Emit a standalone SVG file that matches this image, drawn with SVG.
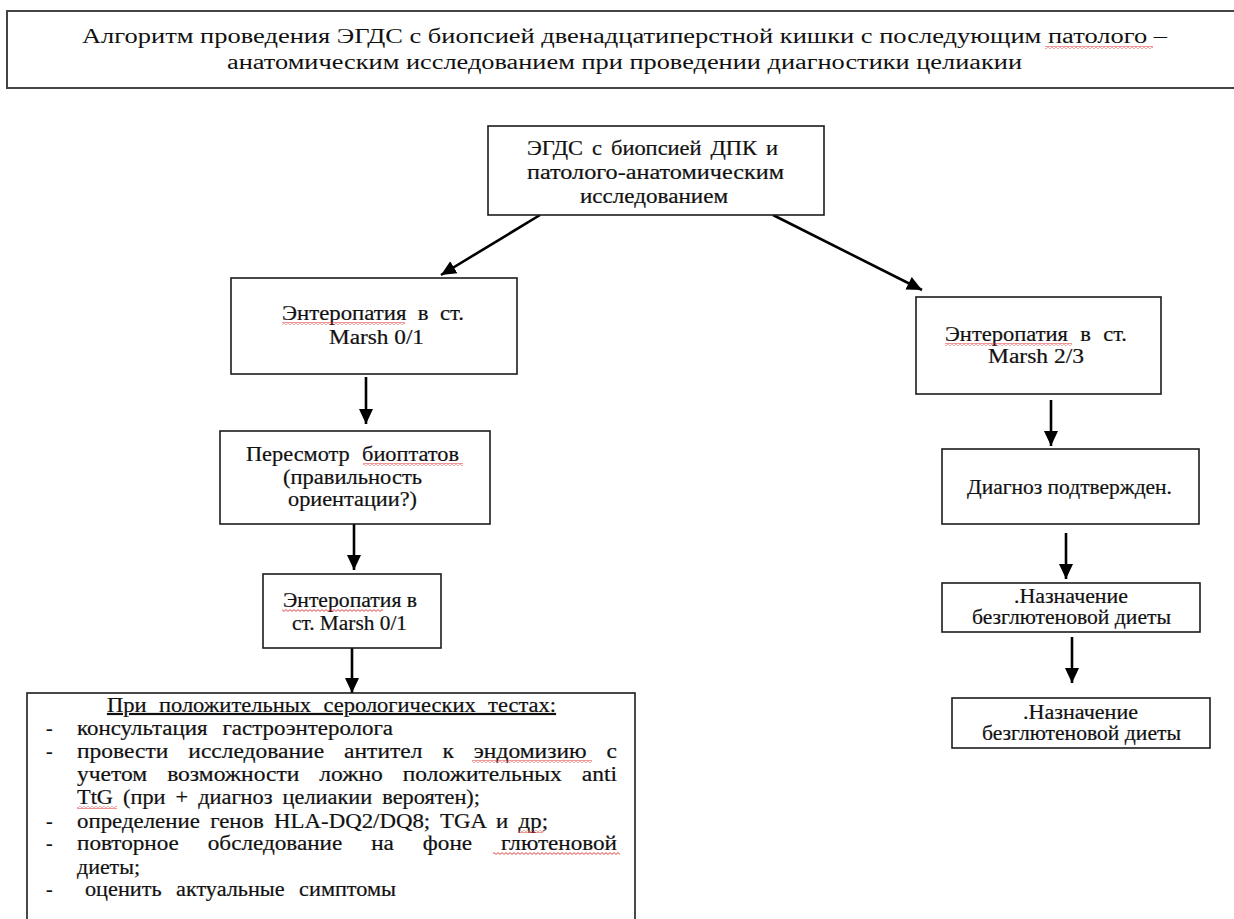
<svg xmlns="http://www.w3.org/2000/svg" width="1234" height="919" viewBox="0 0 1234 919">
<style>
.box{fill:#fff;stroke:#1c1c1c;stroke-width:1.6}
.t{font-family:"Liberation Serif","Times New Roman",serif;font-size:20px;fill:#111;stroke:#111;stroke-width:0.2}
.tt{font-family:"Liberation Serif","Times New Roman",serif;font-size:20px;fill:#111}
.arr{stroke:#000;stroke-width:2.6;fill:none;marker-end:url(#ah)}
.sp{fill:url(#wavy)}
</style>
<defs>
<marker id="ah" markerUnits="userSpaceOnUse" markerWidth="17" markerHeight="16" refX="15" refY="7.5" orient="auto"><path d="M0,0.5 L15,7.5 L0,14.5 z" fill="#000"/></marker>
<pattern id="wavy" width="4" height="3" patternUnits="userSpaceOnUse"><path d="M0,2.4 L2,0.6 L4,2.4" fill="none" stroke="#e03030" stroke-width="0.9"/></pattern>
</defs>

<g id="title">
<rect x="7" y="11" width="1240" height="77" fill="#fff" stroke="#444" stroke-width="2"/>
<text class="tt" x="82" y="43" textLength="1085" lengthAdjust="spacingAndGlyphs">Алгоритм проведения ЭГДС с биопсией двенадцатиперстной кишки с последующим патолого –</text>
<text class="tt" x="227" y="69" textLength="795" lengthAdjust="spacingAndGlyphs">анатомическим исследованием при проведении диагностики целиакии</text>
<rect class="sp" x="1045" y="46" width="108" height="3"/>
</g>

<g id="connectors">
<line class="arr" x1="540" y1="215" x2="441" y2="275"/>
<line class="arr" x1="773" y1="215" x2="922" y2="290"/>
<line class="arr" x1="366" y1="377" x2="366" y2="424"/>
<line class="arr" x1="354" y1="524" x2="354" y2="570"/>
<line class="arr" x1="352" y1="648" x2="352" y2="693"/>
<line class="arr" x1="1051" y1="400" x2="1051" y2="446"/>
<line class="arr" x1="1066" y1="533" x2="1066" y2="579"/>
<line class="arr" x1="1072" y1="637" x2="1072" y2="683"/>
</g>

<g id="node-egds">
<rect class="box" x="488" y="126" width="336" height="89"/>
<text class="t" x="527" y="155" textLength="251" lengthAdjust="spacingAndGlyphs" word-spacing="3">ЭГДС с биопсией ДПК и</text>
<text class="t" x="527" y="179" textLength="257" lengthAdjust="spacingAndGlyphs">патолого-анатомическим</text>
<text class="t" x="580" y="203" textLength="148" lengthAdjust="spacingAndGlyphs">исследованием</text>
</g>

<g id="node-marsh01">
<rect class="box" x="231" y="278" width="286" height="96"/>
<text class="t" x="282" y="320" textLength="182" lengthAdjust="spacingAndGlyphs" word-spacing="5">Энтеропатия в ст.</text>
<text class="t" x="329" y="344" textLength="95" lengthAdjust="spacingAndGlyphs">Marsh 0/1</text>
<rect class="sp" x="282" y="322" width="123" height="3"/>
</g>

<g id="node-review">
<rect class="box" x="220" y="431" width="270" height="93"/>
<text class="t" x="246" y="461" textLength="213" lengthAdjust="spacingAndGlyphs" word-spacing="6">Пересмотр биоптатов</text>
<text class="t" x="283" y="484" textLength="139" lengthAdjust="spacingAndGlyphs">(правильность</text>
<text class="t" x="288" y="506" textLength="129" lengthAdjust="spacingAndGlyphs">ориентации?)</text>
<rect class="sp" x="363" y="463" width="100" height="3"/>
</g>

<g id="node-marsh01-b">
<rect class="box" x="263" y="574" width="178" height="74"/>
<text class="t" x="283" y="607" textLength="134" lengthAdjust="spacingAndGlyphs">Энтеропатия в</text>
<text class="t" x="292" y="630" textLength="115" lengthAdjust="spacingAndGlyphs">ст. Marsh 0/1</text>
<rect class="sp" x="282" y="609" width="101" height="3"/>
</g>

<g id="node-serology">
<rect class="box" x="27" y="693" width="608" height="240"/>
<text class="t" x="107" y="712" textLength="449" lengthAdjust="spacingAndGlyphs" word-spacing="6" text-decoration="underline">При положительных серологических тестах:</text>
<text class="t" x="46" y="735">-</text>
<text class="t" x="77" y="735" textLength="316" lengthAdjust="spacingAndGlyphs" word-spacing="8">консультация гастроэнтеролога</text>
<text class="t" x="46" y="758">-</text>
<text class="t" x="77" y="758" textLength="540" lengthAdjust="spacingAndGlyphs" word-spacing="12">провести исследование антител к эндомизию с</text>
<text class="t" x="77" y="781" textLength="540" lengthAdjust="spacingAndGlyphs" word-spacing="12">учетом возможности ложно положительных anti</text>
<text class="t" x="77" y="804" textLength="403" lengthAdjust="spacingAndGlyphs" word-spacing="4">TtG (при + диагноз целиакии вероятен);</text>
<text class="t" x="46" y="828">-</text>
<text class="t" x="77" y="828" textLength="471" lengthAdjust="spacingAndGlyphs" word-spacing="4">определение генов HLA-DQ2/DQ8; TGA и др;</text>
<text class="t" x="46" y="850">-</text>
<text class="t" x="77" y="850" textLength="540" lengthAdjust="spacingAndGlyphs" word-spacing="20">повторное обследование на фоне глютеновой</text>
<text class="t" x="77" y="874" textLength="63" lengthAdjust="spacingAndGlyphs">диеты;</text>
<text class="t" x="46" y="896">-</text>
<text class="t" x="85" y="896" textLength="311" lengthAdjust="spacingAndGlyphs" word-spacing="8">оценить актуальные симптомы</text>
<rect class="sp" x="472" y="760" width="120" height="3"/>
<rect class="sp" x="77" y="806" width="40" height="3"/>
<rect class="sp" x="518" y="830" width="25" height="3"/>
<rect class="sp" x="493" y="852" width="127" height="3"/>
</g>

<g id="node-marsh23">
<rect class="box" x="916" y="297" width="245" height="97"/>
<text class="t" x="945" y="341" textLength="182" lengthAdjust="spacingAndGlyphs" word-spacing="6">Энтеропатия в ст.</text>
<text class="t" x="988" y="363" textLength="96" lengthAdjust="spacingAndGlyphs">Marsh 2/3</text>
<rect class="sp" x="945" y="343" width="127" height="3"/>
</g>

<g id="node-confirmed">
<rect class="box" x="942" y="449" width="257" height="75"/>
<text class="t" x="967" y="494" textLength="205" lengthAdjust="spacingAndGlyphs">Диагноз подтвержден.</text>
</g>

<g id="node-diet1">
<rect class="box" x="942" y="583" width="258" height="49"/>
<text class="t" x="1014" y="603" textLength="114" lengthAdjust="spacingAndGlyphs">.Назначение</text>
<text class="t" x="972" y="624" textLength="199" lengthAdjust="spacingAndGlyphs">безглютеновой диеты</text>
</g>

<g id="node-diet2">
<rect class="box" x="952" y="698" width="258" height="50"/>
<text class="t" x="1023" y="719" textLength="115" lengthAdjust="spacingAndGlyphs">.Назначение</text>
<text class="t" x="982" y="740" textLength="199" lengthAdjust="spacingAndGlyphs">безглютеновой диеты</text>
</g>
</svg>
